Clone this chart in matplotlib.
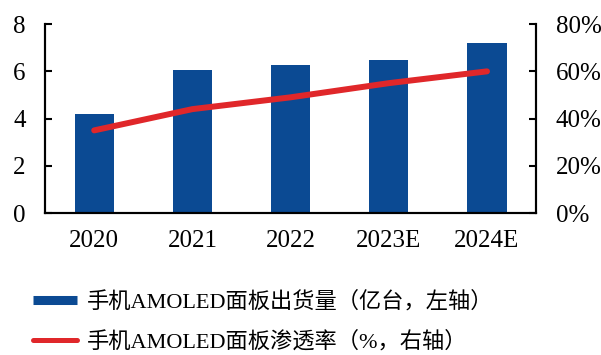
import matplotlib.pyplot as plt
from matplotlib.lines import Line2D
import numpy as np

years = ["2020", "2021", "2022", "2023E", "2024E"]
shipments = [4.2, 6.05, 6.28, 6.5, 7.2]        # 亿台
penetration = [35, 44, 49, 55, 60]             # %

bar_color = "#0b4a93"
line_color = "#e0272a"
serif = ["Liberation Serif", "Noto Sans CJK SC"]

plt.rcParams['font.family'] = serif

fig = plt.figure(figsize=(6.01, 3.55), dpi=100)
ax = fig.add_axes([0.075, 0.4, 0.817, 0.532])

x = np.arange(len(years))
ax.bar(x, shipments, width=0.4, color=bar_color, zorder=2)
ax.set_xlim(-0.5, len(years) - 0.5)
ax.set_ylim(0, 8)
ax.set_yticks([0, 2, 4, 6, 8])
ax.set_xticks(x)
ax.set_xticklabels(years)

ax2 = ax.twinx()
ax2.plot(x, penetration, color=line_color, linewidth=4.3, solid_capstyle="round", zorder=3)
ax2.set_ylim(0, 80)
ax2.set_yticks([0, 20, 40, 60, 80])
ax2.set_yticklabels(["%d%%" % v for v in [0, 20, 40, 60, 80]])

for a in (ax, ax2):
    a.spines["top"].set_visible(False)
    for s in ("left", "right", "bottom"):
        a.spines[s].set_linewidth(1.5)

ax.tick_params(axis="y", direction="in", length=5, width=1.5, labelsize=18, pad=14)
ax.tick_params(axis="x", length=0, labelsize=18, pad=12)
ax2.tick_params(axis="y", direction="in", length=5, width=1.5, labelsize=18, pad=14)

handles = [
    Line2D([0], [0], color=bar_color, linewidth=6.5, solid_capstyle="butt"),
    Line2D([0], [0], color=line_color, linewidth=3.6, solid_capstyle="round"),
]
labels = ["手机AMOLED面板出货量（亿台，左轴）", "手机AMOLED面板渗透率（%，右轴）"]
fig.legend(handles, labels, loc="upper left", bbox_to_anchor=(0.055, 0.18),
           frameon=False, fontsize=16, handlelength=2.0, handletextpad=0.4,
           labelspacing=0.85, borderaxespad=0, borderpad=0)

fig.savefig("out.png", dpi=100)
